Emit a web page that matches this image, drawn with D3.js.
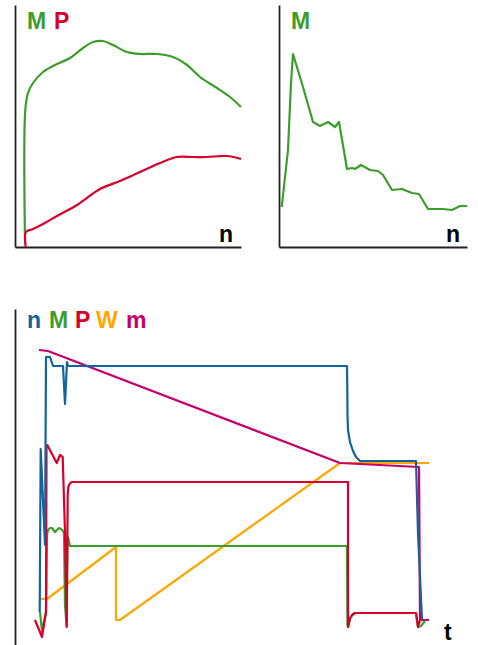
<!DOCTYPE html>
<html>
<head>
<meta charset="utf-8">
<script src="https://cdn.jsdelivr.net/npm/d3@7"></script>
<style>
  body { margin: 0; background: #fff; }
  text { font-family: "Liberation Sans", Arial, sans-serif; font-weight: bold; }
</style>
</head>
<body>
<div id="container"></div>
<script>
/* CONSTANTS */
const width = 478, height = 645;

const colors = {
  n: "#12649b",
  M: "#3c9d2c",
  P: "#d7002c",
  W: "#ffa600",
  m: "#c6006a"
};

/* DATA */
// top-left panel: torque M and power P against speed n
const speedM = [[10,7],[10.3,137],[13,154],[18,164],[28,175],[40,182],[55,189],[68,199],[78,205],[88,206],[98,202],[112,195],[125,193],[142,193],[158,190],[172,182],[185,170],[202,159],[215,150],[226,140]];
const speedP = [[10.7,0],[11,15],[18,18],[28,23],[42,31],[62,42],[85,58],[105,66],[125,75],[145,84],[162,90],[178,90],[192,90],[212,91],[226,88]];

// top-right panel: torque M against n
const speedM2 = [[2.7,40],[9,97],[12,164],[14,193],[24,160],[34,125],[41,121],[49,125],[56,120],[60,125],[68,78],[73,79],[76,78],[82,82],[91,77],[99,76],[104,72],[113,57],[123,58],[133,54],[140,53],[149,38],[164,38],[173,37],[181,41],[188,41]];

// bottom panel: time series
const timeN = [[24.7,33],[25.7,196],[30,100],[31,288],[35,288],[38,279],[48,279],[50,241],[52,283],[53,279],[332,279],[332.3,255],[332.5,230],[333,215],[335,203],[338,194],[341,188],[345,184],[401,184],[403,112],[407,25]];
const timeM = [[25,33],[27,14],[31,33],[32,110],[33,115],[35,117],[37,117],[40,113],[42,115],[44,117],[46,116],[48,114],[49,112],[50,40],[51.5,20],[52.5,100],[53,108],[55,99],[332,99],[332.5,20],[333,18],[335,26],[338,31],[341,32],[401,32],[403,18],[406,19],[410,24]];
const timeP = [[20,25],[27,8],[31,33],[31.5,197],[32.3,200],[41.7,182],[45,190],[47.7,188],[50,112],[51.7,18],[52.7,150],[53.3,158],[54.5,161],[56.7,163],[333,163],[333,18],[335,27],[337,30],[340,32],[401,32],[403,18],[406,28]];
const timeW = [[24,46],[32,46],[101,98],[101,25],[105,25],[325,182],[414,182]];
const timeMass = [[24,295],[33,294],[325,182],[404,178],[405,25],[414,25]];

const legendTop = ["M", "P"];
const legendBottom = ["n", "M", "P", "W", "m"];

/* SCALES */
const x1 = d3.scaleLinear().domain([0, 226]).range([15, 241]);
const y1 = d3.scaleLinear().domain([0, 242]).range([247, 5]);
const x2 = d3.scaleLinear().domain([0, 188]).range([279, 467]);
const y2 = d3.scaleLinear().domain([0, 242]).range([247, 5]);
const x3 = d3.scaleLinear().domain([0, 450]).range([15, 465]);
const y3 = d3.scaleLinear().domain([0, 336]).range([645, 309]);

const svg = d3.select("#container")
  .append("svg")
  .attr("width", width)
  .attr("height", height);

// axes without ticks, just the lines
function bareAxis(axis) {
  return axis.tickValues([]).tickSizeOuter(0);
}
function styleAxis(g) {
  g.select(".domain").attr("stroke", "#222").attr("stroke-width", 1.8);
}

svg.append("g").attr("transform", `translate(${x1(0)},0)`)
  .call(bareAxis(d3.axisLeft(y1))).call(styleAxis);
svg.append("g").attr("transform", `translate(0,${y1(0)})`)
  .call(bareAxis(d3.axisBottom(x1))).call(styleAxis);
svg.append("g").attr("transform", `translate(${x2(0)},0)`)
  .call(bareAxis(d3.axisLeft(y2))).call(styleAxis);
svg.append("g").attr("transform", `translate(0,${y2(0)})`)
  .call(bareAxis(d3.axisBottom(x2))).call(styleAxis);
svg.append("g").attr("transform", `translate(${x3(0)},0)`)
  .call(bareAxis(d3.axisLeft(y3))).call(styleAxis);

/* LINES */
function drawLine(data, xs, ys, color, curve) {
  const line = d3.line()
    .x(d => xs(d[0]))
    .y(d => ys(d[1]))
    .curve(curve || d3.curveLinear);
  svg.append("path")
    .datum(data)
    .attr("d", line)
    .attr("fill", "none")
    .attr("stroke", color)
    .attr("stroke-width", 2.2)
    .attr("stroke-linejoin", "round");
}

drawLine(speedM, x1, y1, colors.M, d3.curveCatmullRom);
drawLine(speedP, x1, y1, colors.P, d3.curveCatmullRom);
drawLine(speedM2, x2, y2, colors.M);

drawLine(timeW, x3, y3, colors.W);
drawLine(timeMass, x3, y3, colors.m);
drawLine(timeM, x3, y3, colors.M);
drawLine(timeP, x3, y3, colors.P);
drawLine(timeN, x3, y3, colors.n);

/* LABELS */
const topX = [27, 54];
svg.selectAll(".legTop")
  .data(legendTop)
  .join("text")
  .attr("x", (d, i) => topX[i])
  .attr("y", 29)
  .attr("font-size", 23)
  .attr("fill", d => colors[d])
  .text(d => d);

svg.append("text").attr("x", 291).attr("y", 29)
  .attr("font-size", 23).attr("fill", colors.M).text("M");

svg.append("text").attr("x", 219).attr("y", 242)
  .attr("font-size", 23).attr("fill", "#000").text("n");
svg.append("text").attr("x", 446).attr("y", 242)
  .attr("font-size", 23).attr("fill", "#000").text("n");

const botX = [27, 49, 75, 96, 126];
svg.selectAll(".legBot")
  .data(legendBottom)
  .join("text")
  .attr("x", (d, i) => botX[i])
  .attr("y", 328)
  .attr("font-size", 23)
  .attr("fill", d => colors[d])
  .text(d => d);

svg.append("text").attr("x", 444).attr("y", 640)
  .attr("font-size", 23).attr("fill", "#000").text("t");
</script>
</body>
</html>
